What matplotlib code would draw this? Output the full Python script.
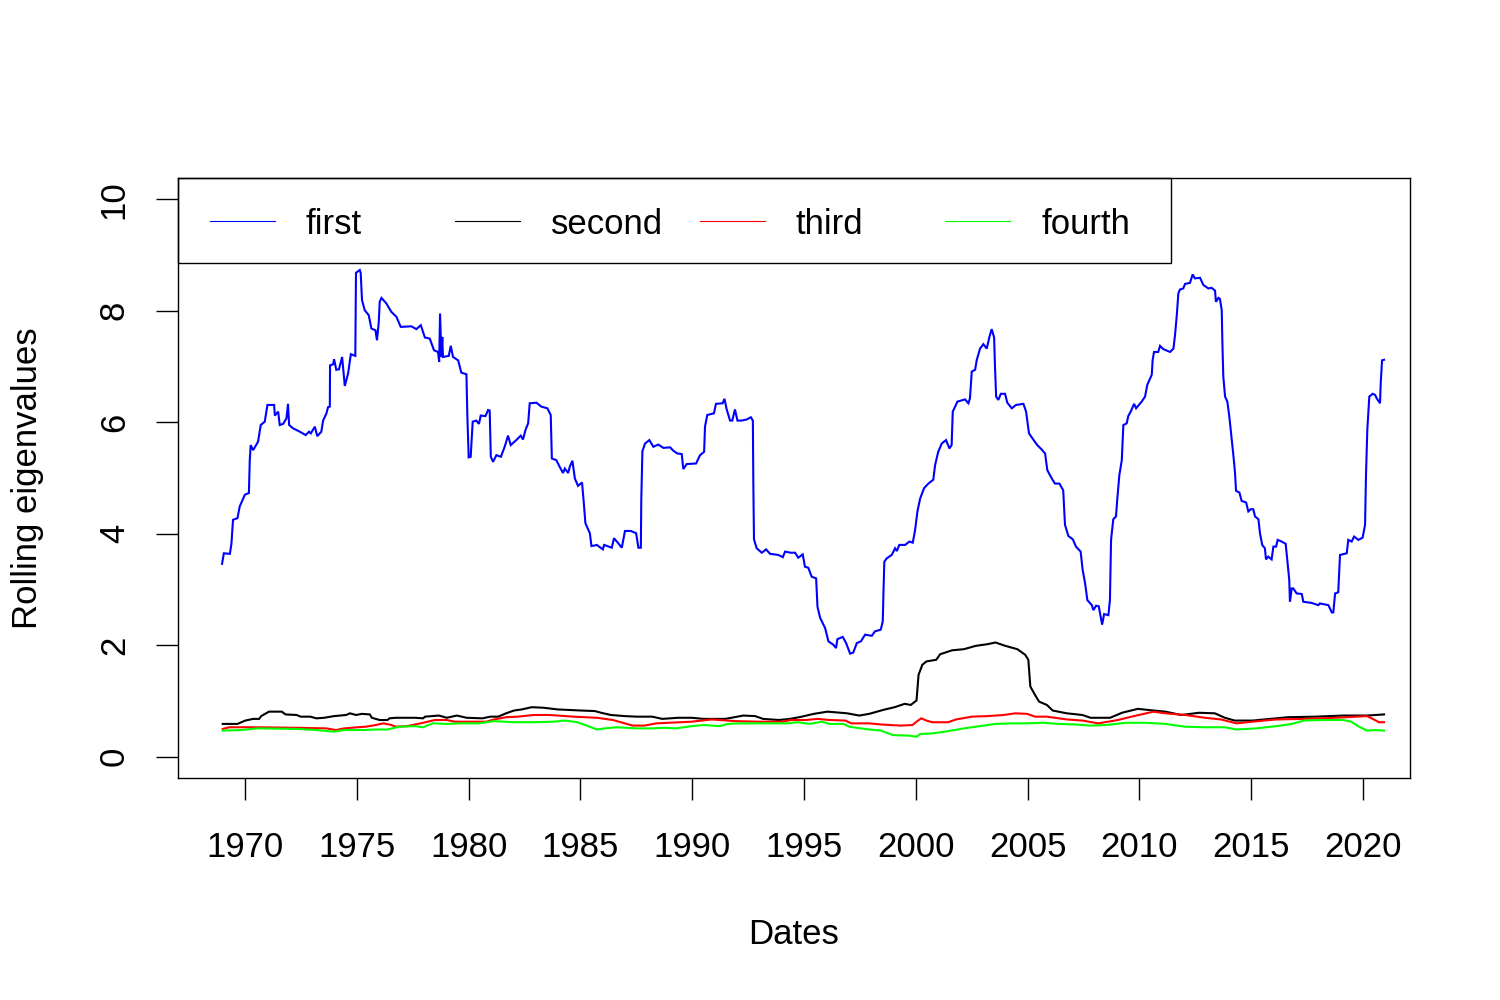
import matplotlib
matplotlib.use("Agg")
import matplotlib.pyplot as plt
import numpy as np
from matplotlib.lines import Line2D
from matplotlib.patches import Rectangle


# values (decimal years, eigenvalue)
first_years = [
    1968.97, 1969.05, 1969.32, 1969.39, 1969.46, 1969.66, 1969.76, 1969.99, 1970.17, 1970.21,
    1970.25, 1970.36, 1970.58, 1970.70, 1970.88, 1971.00, 1971.30, 1971.33, 1971.48, 1971.55,
    1971.70, 1971.85, 1971.92, 1971.97, 1972.15, 1972.45, 1972.71, 1972.86, 1972.94, 1973.12,
    1973.23, 1973.41, 1973.49, 1973.64, 1973.71, 1973.79, 1973.80, 1973.94, 1973.98, 1974.08,
    1974.20, 1974.34, 1974.46, 1974.61, 1974.73, 1974.93, 1974.96, 1975.13, 1975.17, 1975.23,
    1975.35, 1975.53, 1975.65, 1975.83, 1975.90, 1975.98, 1976.02, 1976.10, 1976.32, 1976.54,
    1976.77, 1976.96, 1977.44, 1977.66, 1977.86, 1978.04, 1978.26, 1978.45, 1978.63, 1978.68,
    1978.72, 1978.78, 1978.82, 1978.85, 1979.11, 1979.20, 1979.30, 1979.53, 1979.67, 1979.90,
    1979.94, 1980.00, 1980.09, 1980.18, 1980.34, 1980.46, 1980.54, 1980.75, 1980.87, 1980.94,
    1980.99, 1981.09, 1981.24, 1981.44, 1981.61, 1981.76, 1981.88, 1982.13, 1982.33, 1982.43,
    1982.54, 1982.66, 1982.73, 1983.03, 1983.25, 1983.52, 1983.67, 1983.72, 1983.92, 1984.07,
    1984.22, 1984.30, 1984.45, 1984.52, 1984.64, 1984.75, 1984.89, 1985.07, 1985.15, 1985.22,
    1985.42, 1985.49, 1985.64, 1985.73, 1986.00, 1986.06, 1986.40, 1986.50, 1986.69, 1986.85,
    1986.99, 1987.25, 1987.49, 1987.59, 1987.70, 1987.72, 1987.77, 1987.89, 1988.08, 1988.26,
    1988.48, 1988.71, 1989.01, 1989.15, 1989.33, 1989.53, 1989.60, 1989.75, 1990.17, 1990.35,
    1990.53, 1990.57, 1990.67, 1990.97, 1991.06, 1991.36, 1991.44, 1991.54, 1991.69, 1991.79,
    1991.91, 1992.02, 1992.21, 1992.44, 1992.62, 1992.71, 1992.73, 1992.76, 1992.88, 1993.11,
    1993.30, 1993.48, 1993.85, 1994.05, 1994.15, 1994.40, 1994.60, 1994.74, 1994.94, 1995.04,
    1995.19, 1995.34, 1995.54, 1995.60, 1995.72, 1995.94, 1996.09, 1996.31, 1996.43, 1996.49,
    1996.73, 1996.88, 1997.06, 1997.20, 1997.36, 1997.54, 1997.73, 1998.03, 1998.17, 1998.43,
    1998.52, 1998.55, 1998.59, 1998.70, 1998.92, 1999.07, 1999.15, 1999.26, 1999.52, 1999.71,
    1999.86, 1999.96, 2000.07, 2000.19, 2000.37, 2000.56, 2000.78, 2000.86, 2001.00, 2001.16,
    2001.35, 2001.50, 2001.60, 2001.65, 2001.86, 2002.20, 2002.35, 2002.42, 2002.50, 2002.65,
    2002.72, 2002.87, 2003.02, 2003.17, 2003.29, 2003.39, 2003.50, 2003.54, 2003.59, 2003.69,
    2003.80, 2003.99, 2004.09, 2004.29, 2004.48, 2004.81, 2004.93, 2005.06, 2005.25, 2005.43,
    2005.63, 2005.78, 2005.88, 2006.08, 2006.22, 2006.42, 2006.59, 2006.67, 2006.82, 2007.02,
    2007.16, 2007.37, 2007.46, 2007.57, 2007.67, 2007.87, 2007.94, 2008.06, 2008.18, 2008.24,
    2008.33, 2008.42, 2008.61, 2008.68, 2008.73, 2008.83, 2008.95, 2009.01, 2009.10, 2009.21,
    2009.28, 2009.43, 2009.50, 2009.62, 2009.76, 2009.85, 2010.10, 2010.25, 2010.35, 2010.47,
    2010.55, 2010.59, 2010.65, 2010.84, 2010.92, 2011.07, 2011.37, 2011.52, 2011.59, 2011.67,
    2011.74, 2011.81, 2011.96, 2012.04, 2012.26, 2012.38, 2012.48, 2012.71, 2012.86, 2013.08,
    2013.23, 2013.38, 2013.42, 2013.53, 2013.60, 2013.68, 2013.71, 2013.75, 2013.83, 2013.93,
    2014.02, 2014.13, 2014.20, 2014.27, 2014.32, 2014.47, 2014.57, 2014.77, 2014.87, 2014.98,
    2015.09, 2015.17, 2015.32, 2015.39, 2015.49, 2015.61, 2015.66, 2015.76, 2015.91, 2015.99,
    2016.11, 2016.18, 2016.36, 2016.54, 2016.61, 2016.70, 2016.73, 2016.81, 2016.88, 2017.03,
    2017.26, 2017.33, 2017.70, 2018.00, 2018.07, 2018.45, 2018.60, 2018.67, 2018.75, 2018.89,
    2018.97, 2019.27, 2019.34, 2019.49, 2019.60, 2019.79, 2019.98, 2020.09, 2020.13, 2020.19,
    2020.28, 2020.43, 2020.54, 2020.61, 2020.76, 2020.79, 2020.85, 2020.94,
]
first_vals = [
    3.46, 3.65, 3.64, 3.82, 4.25, 4.28, 4.49, 4.70, 4.73, 5.32,
    5.59, 5.50, 5.65, 5.95, 6.01, 6.31, 6.31, 6.12, 6.19, 5.95,
    5.97, 6.07, 6.33, 5.95, 5.89, 5.83, 5.77, 5.83, 5.80, 5.92,
    5.75, 5.83, 6.03, 6.16, 6.27, 6.28, 7.02, 7.04, 7.13, 6.94,
    6.95, 7.17, 6.65, 6.88, 7.22, 7.19, 8.68, 8.73, 8.68, 8.19,
    8.01, 7.92, 7.68, 7.65, 7.47, 7.80, 8.16, 8.23, 8.13, 7.98,
    7.89, 7.71, 7.72, 7.67, 7.74, 7.52, 7.50, 7.29, 7.26, 7.08,
    7.95, 7.17, 7.53, 7.17, 7.19, 7.37, 7.17, 7.11, 6.89, 6.86,
    6.13, 5.37, 5.38, 6.01, 6.03, 5.97, 6.12, 6.11, 6.22, 6.21,
    5.38, 5.29, 5.41, 5.38, 5.56, 5.76, 5.59, 5.68, 5.76, 5.69,
    5.86, 5.98, 6.34, 6.35, 6.28, 6.25, 6.13, 5.35, 5.32, 5.20,
    5.09, 5.17, 5.09, 5.20, 5.31, 4.99, 4.86, 4.92, 4.55, 4.19,
    4.01, 3.78, 3.79, 3.80, 3.72, 3.80, 3.75, 3.92, 3.83, 3.75,
    4.05, 4.05, 4.01, 3.75, 3.75, 4.61, 5.48, 5.62, 5.68, 5.56,
    5.60, 5.54, 5.55, 5.49, 5.44, 5.43, 5.16, 5.25, 5.26, 5.41,
    5.47, 5.92, 6.13, 6.16, 6.33, 6.34, 6.42, 6.23, 6.03, 6.03,
    6.23, 6.03, 6.03, 6.05, 6.09, 6.03, 4.96, 3.90, 3.74, 3.66,
    3.72, 3.64, 3.62, 3.58, 3.68, 3.66, 3.66, 3.57, 3.63, 3.41,
    3.39, 3.23, 3.20, 2.69, 2.49, 2.31, 2.07, 2.01, 1.95, 2.11,
    2.15, 2.04, 1.85, 1.87, 2.04, 2.07, 2.19, 2.17, 2.25, 2.28,
    2.43, 2.93, 3.50, 3.56, 3.62, 3.74, 3.69, 3.80, 3.80, 3.86,
    3.84, 4.05, 4.40, 4.63, 4.82, 4.90, 4.97, 5.23, 5.47, 5.62,
    5.68, 5.53, 5.59, 6.19, 6.37, 6.41, 6.34, 6.43, 6.91, 6.94,
    7.11, 7.32, 7.40, 7.32, 7.53, 7.67, 7.52, 6.99, 6.46, 6.40,
    6.51, 6.51, 6.35, 6.25, 6.31, 6.33, 6.19, 5.80, 5.69, 5.59,
    5.51, 5.44, 5.14, 4.99, 4.90, 4.90, 4.78, 4.16, 3.96, 3.90,
    3.77, 3.68, 3.35, 3.11, 2.81, 2.72, 2.63, 2.71, 2.70, 2.57,
    2.37, 2.56, 2.54, 2.81, 3.89, 4.26, 4.31, 4.63, 5.05, 5.32,
    5.95, 5.98, 6.11, 6.20, 6.33, 6.25, 6.37, 6.46, 6.67, 6.78,
    6.85, 7.11, 7.26, 7.26, 7.37, 7.31, 7.26, 7.32, 7.56, 7.92,
    8.31, 8.38, 8.40, 8.48, 8.50, 8.65, 8.58, 8.59, 8.46, 8.40,
    8.41, 8.36, 8.16, 8.23, 8.21, 8.01, 7.41, 6.82, 6.46, 6.37,
    6.10, 5.68, 5.41, 5.11, 4.77, 4.74, 4.59, 4.56, 4.40, 4.44,
    4.44, 4.31, 4.26, 4.01, 3.80, 3.74, 3.54, 3.59, 3.54, 3.77,
    3.77, 3.89, 3.86, 3.82, 3.53, 3.17, 2.78, 3.02, 3.02, 2.93,
    2.92, 2.78, 2.76, 2.72, 2.75, 2.72, 2.59, 2.59, 2.93, 2.95,
    3.62, 3.65, 3.89, 3.86, 3.95, 3.89, 3.93, 4.16, 5.02, 5.86,
    6.46, 6.51, 6.49, 6.43, 6.34, 6.70, 7.11, 7.12,
]

second_years = [
    1969.00, 1969.66, 1970.01, 1970.36, 1970.63, 1970.72, 1971.07, 1971.64, 1971.81, 1972.31,
    1972.48, 1972.92, 1973.19, 1973.54, 1973.98, 1974.52, 1974.69, 1974.96, 1975.22, 1975.58,
    1975.67, 1976.02, 1976.37, 1976.46, 1976.73, 1977.61, 1977.96, 1978.05, 1978.67, 1979.02,
    1979.47, 1979.91, 1980.61, 1980.97, 1981.32, 1981.67, 1982.03, 1982.38, 1982.82, 1983.35,
    1983.97, 1984.50, 1985.03, 1985.65, 1985.92, 1986.36, 1986.98, 1987.51, 1988.21, 1988.66,
    1989.36, 1989.98, 1990.51, 1991.48, 1992.28, 1992.81, 1993.17, 1993.87, 1994.37, 1994.90,
    1995.43, 1996.05, 1996.93, 1997.47, 1997.91, 1998.53, 1999.05, 1999.50, 1999.77, 2000.03,
    2000.12, 2000.29, 2000.47, 2000.91, 2001.09, 2001.62, 2002.15, 2002.68, 2003.21, 2003.56,
    2004.00, 2004.54, 2004.89, 2005.03, 2005.12, 2005.33, 2005.51, 2005.86, 2006.12, 2006.75,
    2007.45, 2007.81, 2008.69, 2009.22, 2009.93, 2010.63, 2011.16, 2011.87, 2012.67, 2013.37,
    2013.82, 2014.26, 2015.06, 2016.64, 2017.88, 2019.12, 2020.18, 2020.94,
]
second_vals = [
    0.59, 0.59, 0.65, 0.68, 0.68, 0.73, 0.81, 0.81, 0.76, 0.75,
    0.72, 0.72, 0.69, 0.70, 0.73, 0.75, 0.78, 0.75, 0.77, 0.76,
    0.70, 0.66, 0.66, 0.69, 0.70, 0.70, 0.69, 0.72, 0.74, 0.70,
    0.74, 0.70, 0.69, 0.72, 0.72, 0.78, 0.83, 0.85, 0.89, 0.88,
    0.85, 0.84, 0.83, 0.82, 0.79, 0.75, 0.73, 0.72, 0.72, 0.68,
    0.70, 0.70, 0.68, 0.68, 0.74, 0.73, 0.68, 0.66, 0.68, 0.72,
    0.77, 0.81, 0.78, 0.74, 0.77, 0.84, 0.89, 0.95, 0.93, 1.01,
    1.47, 1.65, 1.71, 1.74, 1.84, 1.91, 1.93, 1.99, 2.02, 2.05,
    1.99, 1.93, 1.83, 1.74, 1.26, 1.11, 0.99, 0.93, 0.83, 0.78,
    0.75, 0.70, 0.70, 0.79, 0.86, 0.83, 0.81, 0.75, 0.79, 0.78,
    0.70, 0.65, 0.65, 0.71, 0.72, 0.74, 0.74, 0.76,
]

third_years = [
    1969.00, 1969.30, 1970.54, 1972.31, 1973.63, 1974.07, 1974.43, 1975.04, 1975.40, 1975.84,
    1976.19, 1976.55, 1976.73, 1977.25, 1977.61, 1977.96, 1978.49, 1979.02, 1979.38, 1980.79,
    1981.14, 1981.67, 1982.20, 1982.91, 1983.62, 1984.68, 1985.74, 1986.45, 1986.98, 1987.33,
    1987.86, 1988.39, 1988.92, 1989.98, 1990.87, 1991.22, 1991.93, 1992.99, 1994.05, 1994.40,
    1995.08, 1995.61, 1996.14, 1996.85, 1997.11, 1997.91, 1998.44, 1999.32, 1999.85, 2000.03,
    2000.24, 2000.47, 2000.74, 2001.44, 2001.80, 2002.50, 2003.21, 2003.92, 2004.45, 2004.98,
    2005.33, 2005.86, 2006.75, 2007.45, 2008.16, 2009.04, 2009.75, 2010.63, 2011.16, 2012.05,
    2012.93, 2013.64, 2014.34, 2015.06, 2016.12, 2017.35, 2018.77, 2020.18, 2020.53, 2020.71,
    2020.94,
]
third_vals = [
    0.50, 0.53, 0.53, 0.52, 0.51, 0.48, 0.51, 0.53, 0.54, 0.57,
    0.60, 0.57, 0.54, 0.55, 0.58, 0.61, 0.66, 0.66, 0.63, 0.63,
    0.67, 0.71, 0.72, 0.75, 0.75, 0.72, 0.70, 0.66, 0.60, 0.56,
    0.56, 0.60, 0.61, 0.63, 0.67, 0.66, 0.64, 0.63, 0.63, 0.66,
    0.66, 0.68, 0.66, 0.65, 0.60, 0.60, 0.58, 0.56, 0.57, 0.63,
    0.69, 0.65, 0.62, 0.62, 0.67, 0.72, 0.73, 0.75, 0.78, 0.77,
    0.72, 0.72, 0.67, 0.65, 0.60, 0.66, 0.73, 0.81, 0.78, 0.75,
    0.70, 0.67, 0.60, 0.63, 0.67, 0.68, 0.70, 0.73, 0.66, 0.62,
    0.62,
]

fourth_years = [
    1969.00, 1969.83, 1970.54, 1972.31, 1973.19, 1973.98, 1974.43, 1975.31, 1975.84, 1976.37,
    1976.90, 1977.61, 1977.96, 1978.40, 1979.02, 1979.73, 1980.44, 1981.14, 1982.03, 1982.91,
    1983.80, 1984.32, 1984.86, 1985.21, 1985.47, 1985.74, 1986.09, 1986.62, 1987.51, 1988.21,
    1988.75, 1989.27, 1989.98, 1990.51, 1991.22, 1991.57, 1992.11, 1993.52, 1994.22, 1994.72,
    1995.26, 1995.79, 1996.14, 1996.76, 1997.02, 1997.55, 1997.91, 1998.44, 1998.97, 1999.68,
    2000.03, 2000.20, 2000.74, 2001.44, 2002.15, 2002.86, 2003.56, 2004.27, 2004.98, 2005.69,
    2006.39, 2007.10, 2007.81, 2008.51, 2009.40, 2010.28, 2011.16, 2012.05, 2012.93, 2013.82,
    2014.34, 2015.23, 2016.12, 2016.82, 2017.35, 2018.21, 2019.12, 2019.47, 2019.82, 2020.18,
    2020.53, 2020.94,
]
fourth_vals = [
    0.47, 0.48, 0.51, 0.50, 0.48, 0.45, 0.48, 0.48, 0.49, 0.49,
    0.54, 0.55, 0.53, 0.60, 0.59, 0.60, 0.60, 0.64, 0.62, 0.62,
    0.63, 0.65, 0.62, 0.57, 0.53, 0.49, 0.51, 0.53, 0.51, 0.51,
    0.52, 0.51, 0.55, 0.57, 0.55, 0.59, 0.60, 0.60, 0.60, 0.62,
    0.59, 0.63, 0.59, 0.59, 0.54, 0.51, 0.49, 0.47, 0.39, 0.38,
    0.36, 0.41, 0.42, 0.46, 0.51, 0.55, 0.59, 0.60, 0.60, 0.61,
    0.59, 0.58, 0.56, 0.57, 0.61, 0.61, 0.59, 0.54, 0.53, 0.53,
    0.49, 0.51, 0.55, 0.59, 0.65, 0.66, 0.66, 0.63, 0.54, 0.47,
    0.48, 0.47,
]

series_names = ["first", "second", "third", "fourth"]
series_colors = ["#0000FF", "#000000", "#FF0000", "#00FF00"]
x_ticks = [1970, 1975, 1980, 1985, 1990, 1995, 2000, 2005, 2010, 2015, 2020]
y_ticks = [0, 2, 4, 6, 8, 10]

plt.rcParams["font.family"] = ["Liberation Sans", "DejaVu Sans"]
FS = 25

fig = plt.figure(figsize=(15, 10), dpi=100)
ax = fig.add_axes([178 / 1500, 222 / 1000, 1232 / 1500, 600 / 1000])

series = [(first_years, first_vals), (second_years, second_vals),
          (third_years, third_vals), (fourth_years, fourth_vals)]
for (xs, ys), col in zip(series, series_colors):
    ax.plot(xs, ys, color=col, lw=1.5, solid_joinstyle="miter")

ax.set_xlim(1967.0, 2022.1)
ax.set_ylim(-0.38, 10.38)
ax.set_xticks(x_ticks)
ax.set_yticks(y_ticks)
ax.tick_params(axis="both", direction="out", length=16, width=1.0, labelsize=FS, color="black")
ax.tick_params(axis="x", pad=22)
ax.tick_params(axis="y", pad=18)
for lab in ax.get_yticklabels():
    lab.set_rotation(90)
    lab.set_va("center")
for sp in ax.spines.values():
    sp.set_linewidth(1.0)

fig.text(27.5 / 1500, 1 - 478 / 1000, "Rolling eigenvalues", rotation=90,
         ha="center", va="center", fontsize=FS)
fig.text(794 / 1500, 1 - 934 / 1000, "Dates", ha="center", va="center", fontsize=FS)

# legend box in the R style: four equal columns inside the top-left of the plot
ax.add_patch(Rectangle((0, (778 - 263) / 600), (1171 - 178) / 1232, (263 - 178) / 600,
                       transform=ax.transAxes, fill=False, lw=1.0, ec="black", clip_on=False))
leg_y = (778 - 221) / 600
for i, (name, col) in enumerate(zip(series_names, series_colors)):
    x0 = (210 - 178 + 245 * i) / 1232
    ax.add_line(Line2D([x0, x0 + 65 / 1232], [leg_y, leg_y], transform=ax.transAxes,
                       color=col, lw=0.8))
    ax.text(x0 + 96 / 1232, leg_y, name, transform=ax.transAxes, ha="left",
            va="center_baseline", fontsize=FS)

fig.savefig("out.png", dpi=100)
